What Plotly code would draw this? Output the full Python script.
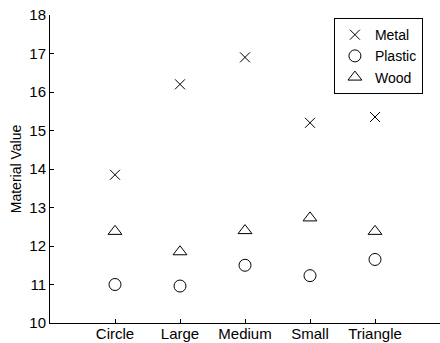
import plotly.graph_objects as go

categories = ["Circle", "Large", "Medium", "Small", "Triangle"]
metal = [13.85, 16.2, 16.9, 15.2, 15.35]
plastic = [11.0, 10.96, 11.5, 11.23, 11.65]
wood = [12.38, 11.85, 12.4, 12.73, 12.38]
y_ticks = [10, 11, 12, 13, 14, 15, 16, 17, 18]

idx = list(range(len(categories)))
FONT = "Arial, Liberation Sans, sans-serif"

fig = go.Figure()
fig.add_trace(go.Scatter(x=idx, y=metal, mode="markers", name="Metal",
                         marker=dict(symbol="x-thin-open", size=10, color="black",
                                     line=dict(width=1, color="black"))))
fig.add_trace(go.Scatter(x=idx, y=plastic, mode="markers", name="Plastic",
                         marker=dict(symbol="circle-open", size=12, color="black",
                                     line=dict(width=1, color="black"))))
fig.add_trace(go.Scatter(x=idx, y=wood, mode="markers", name="Wood",
                         marker=dict(symbol="triangle-up-open", size=12, color="black",
                                     line=dict(width=1, color="black"))))

fig.update_layout(
    width=440, height=343,
    margin=dict(l=50, r=0, t=15, b=20, autoexpand=False),
    paper_bgcolor="white", plot_bgcolor="white",
    font=dict(family=FONT, size=15, color="black"),
    showlegend=True,
    legend=dict(x=0.728, y=0.99, xanchor="left", yanchor="top",
                bgcolor="white", bordercolor="black", borderwidth=1,
                font=dict(size=14), tracegroupgap=0, itemwidth=30,
                entrywidth=76, entrywidthmode="pixels"),
    xaxis=dict(range=[-1, 5], tickmode="array", tickvals=idx, ticktext=categories,
               showline=True, linecolor="black", linewidth=1, mirror=False,
               ticks="inside", ticklen=4, tickcolor="black", showgrid=False,
               zeroline=False, tickfont=dict(size=15), automargin=False,
               ticklabelstandoff=-3),
    yaxis=dict(range=[10, 18], tickmode="array", tickvals=y_ticks,
               showline=True, linecolor="black", linewidth=1, mirror=False,
               ticks="inside", ticklen=4, tickcolor="black", showgrid=False,
               zeroline=False, tickfont=dict(size=15), automargin=False,
               title=dict(text="Material Value", font=dict(size=14), standoff=4)),
)

fig.write_html("out.html", config={"displayModeBar": False},
               post_script="document.body.style.margin='0px';document.body.style.overflow='hidden';")
